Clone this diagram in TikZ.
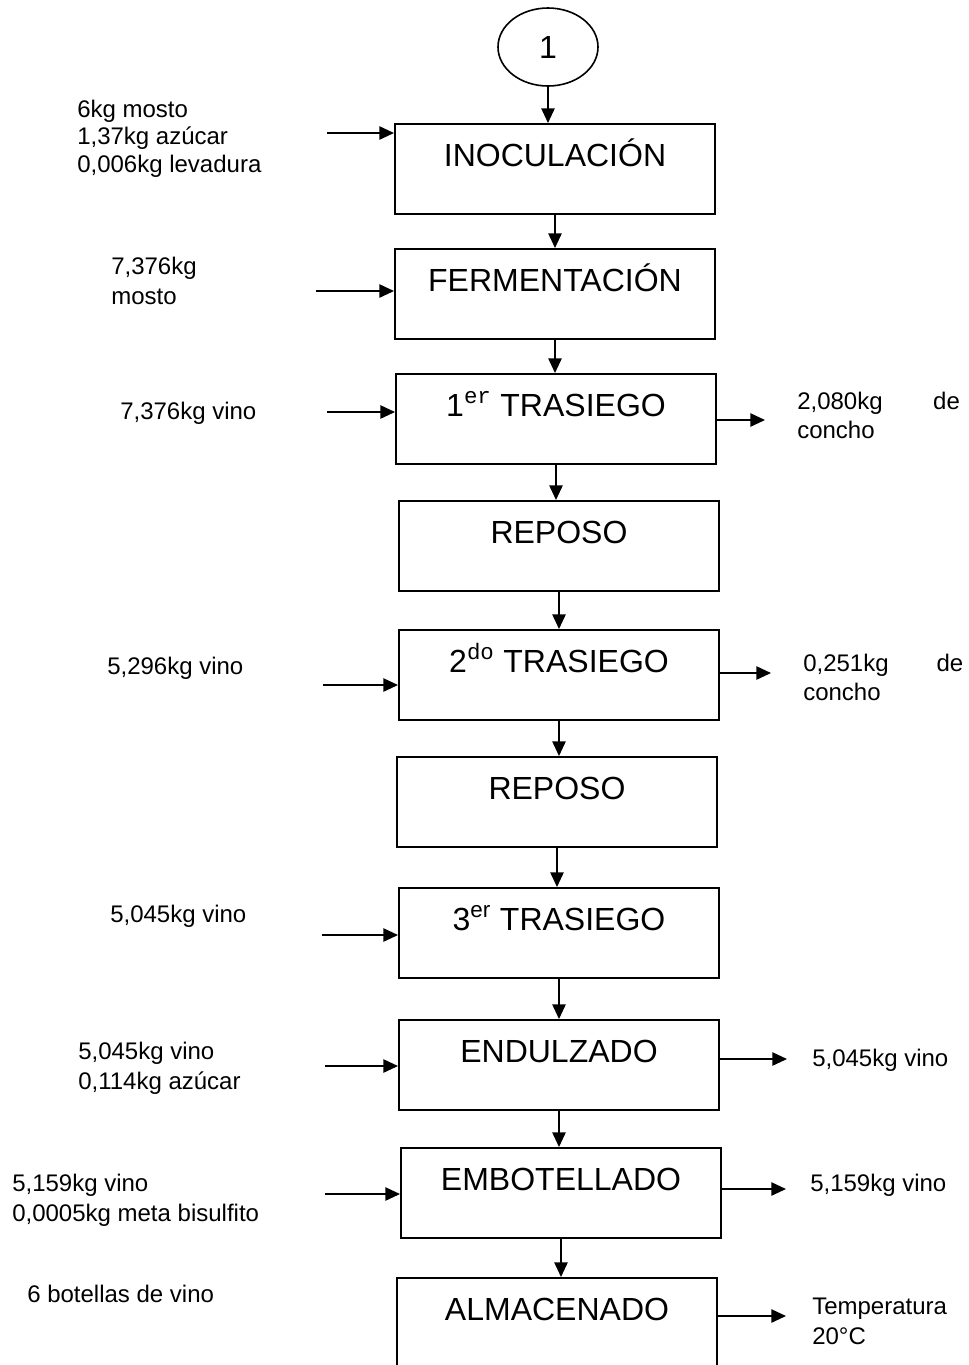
\documentclass[tikz,border=0pt]{standalone}
\usepackage{fontspec}
\setmainfont{Liberation Sans}
\setmonofont{Liberation Mono}
\usetikzlibrary{arrows.meta,calc,positioning,shapes.geometric}
\tikzset{%
	process/.style   = {draw, rectangle, line width=1.5pt, minimum width=240pt, inner xsep=0pt, inner ysep=0pt, text height=31.5pt, text depth=36pt, anchor=north west, font=\fontsize{24}{29}\selectfont},
	connector/.style = {draw, ellipse, line width=1.2pt, minimum width=75pt, minimum height=58.5pt, inner sep=0pt, font=\fontsize{24}{29}\selectfont}, % Conector
	stream/.style    = {align=left, anchor=base west, inner sep=0pt, font=\fontsize{18}{22}\selectfont}, % Entrada / salida (base = ultima linea)
	arrow/.style     = {line width=1.2pt, -{Triangle[length=11pt,width=10pt]}},
}

\begin{document}
\begin{tikzpicture}[x=0.75pt, y=-0.75pt]
	\useasboundingbox (0,0) rectangle (969,1365);
	\node[connector] (uno) at (548,47) {1};
	\node[process] (inoc) at (394,123) {INOCULACIÓN};
	\node[process] (ferm) at (394,248) {FERMENTACIÓN};
	\node[process] (tras1) at (395,373) {1\textsuperscript{\ttfamily er} TRASIEGO};
	\node[process] (rep1) at (398,500) {REPOSO};
	\node[process] (tras2) at (398,629) {2\textsuperscript{\ttfamily do} TRASIEGO};
	\node[process] (rep2) at (396,756) {REPOSO};
	\node[process] (tras3) at (398,887) {3\textsuperscript{er} TRASIEGO};
	\node[process] (endul) at (398,1019) {ENDULZADO};
	\node[process] (embot) at (400,1147) {EMBOTELLADO};
	\node[process] (almac) at (396,1277) {ALMACENADO};
	
	% entradas
	\node[stream, font=\fontsize{18}{20.5}\selectfont] (m1) at (77,172) {6kg mosto\\1,37kg azúcar\\0,006kg levadura};
	\node[stream] (m2) at (111,304) {7,376kg\\mosto};
	\node[stream] (m3) at (120,419) {7,376kg vino};
	\node[stream] (m4) at (107,674) {5,296kg vino};
	\node[stream] (m5) at (110,922) {5,045kg vino};
	\node[stream] (m6) at (78,1089) {5,045kg vino\\0,114kg azúcar};
	\node[stream] (m7) at (12,1221) {5,159kg vino\\0,0005kg meta bisulfito};
	\node[stream] (m8) at (27,1302) {6 botellas de vino};
	
	% salidas (con text width la base es la primera linea)
	\node[stream, text width=122pt] (s1) at (797,409) {2,080kg\hfill de\\concho};
	\node[stream, text width=120pt] (s2) at (803,671) {0,251kg\hfill de\\concho};
	\node[stream] (s3) at (812,1066) {5,045kg vino};
	\node[stream] (s4) at (810,1191) {5,159kg vino};
	\node[stream] (s5) at (812,1344) {Temperatura\\20°C};
	
	\coordinate (a1) at (327,133);
	\coordinate (a2) at (316,291);
	\coordinate (a3) at (327,412);
	\coordinate (a4) at (323,685);
	\coordinate (a5) at (322,935);
	\coordinate (a6) at (325,1066);
	\coordinate (a7) at (325,1194);
	\coordinate (b1) at (765,420);
	\coordinate (b2) at (771,673);
	\coordinate (b3) at (787,1059);
	\coordinate (b4) at (786,1189);
	\coordinate (b5) at (786,1316);
	
	\draw[arrow] (uno) -- (uno |- inoc.north);
	\draw[arrow] (inoc) -- (inoc |- ferm.north);
	\draw[arrow] (ferm) -- (ferm |- tras1.north);
	\draw[arrow] (tras1) -- (tras1 |- rep1.north);
	\draw[arrow] (rep1) -- (rep1 |- tras2.north);
	\draw[arrow] (tras2) -- (tras2 |- rep2.north);
	\draw[arrow] (rep2) -- (rep2 |- tras3.north);
	\draw[arrow] (tras3) -- (tras3 |- endul.north);
	\draw[arrow] (endul) -- (endul |- embot.north);
	\draw[arrow] (embot) -- (embot |- almac.north);
	
	\draw[arrow] (a1) -- (a1 -| inoc.west);
	\draw[arrow] (a2) -- (a2 -| ferm.west);
	\draw[arrow] (a3) -- (a3 -| tras1.west);
	\draw[arrow] (a4) -- (a4 -| tras2.west);
	\draw[arrow] (a5) -- (a5 -| tras3.west);
	\draw[arrow] (a6) -- (a6 -| endul.west);
	\draw[arrow] (a7) -- (a7 -| embot.west);
	
	\draw[arrow] (tras1.east |- b1) -- (b1);
	\draw[arrow] (tras2.east |- b2) -- (b2);
	\draw[arrow] (endul.east |- b3) -- (b3);
	\draw[arrow] (embot.east |- b4) -- (b4);
	\draw[arrow] (almac.east |- b5) -- (b5);
\end{tikzpicture}
\end{document}
